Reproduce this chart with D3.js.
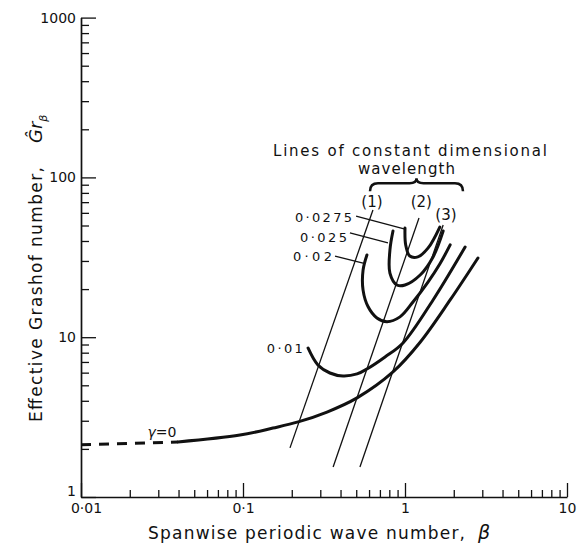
<!DOCTYPE html>
<html>
<head>
<meta charset="utf-8">
<script src="https://cdn.jsdelivr.net/npm/d3@7"></script>
<style>
    body { margin: 0; background: #fff; }
    svg { display: block; font-family: "DejaVu Sans", sans-serif; }
</style>
</head>
<body>
<div id="chart"></div>
<script>
//Datos (beta, Gr)
const betaTicks = [0.01, 0.1, 1, 10];
const grTicks = [1, 10, 100, 1000];

//Curva gamma = 0 (tramo discontinuo y tramo continuo)
const gamma0Dashed = [[0.01, 2.12], [0.0397, 2.21]];
const gamma0 = [[0.0397, 2.21], [0.0958, 2.44], [0.153, 2.70], [0.219, 2.95], [0.330, 3.40], [0.506, 4.17],
    [0.843, 6.06], [1.24, 9.3], [1.90, 17.1], [2.82, 31.3]];

//Curvas de gamma constante
const gamma001 = [[0.252, 8.56], [0.290, 6.70], [0.344, 5.97], [0.414, 5.72], [0.506, 5.89], [0.582, 6.32],
    [0.753, 7.52], [0.972, 9.20], [1.49, 17.1], [2.35, 36.7]];
const gamma002 = [[0.582, 32.7], [0.551, 26.3], [0.551, 19.7], [0.592, 15.5], [0.671, 13.2], [0.774, 12.5],
    [0.931, 13.4], [1.12, 16.6], [1.39, 22.2], [1.64, 28.7], [1.90, 37.8]];
const gamma0025 = [[0.843, 46.2], [0.807, 35.1], [0.807, 25.2], [0.893, 21.2], [1.0, 21.2], [1.24, 24.5],
    [1.49, 31.8], [1.72, 46.2]];
const gamma00275 = [[1.0, 48.2], [1.01, 37.8], [1.07, 32.2], [1.20, 31.8], [1.39, 36.2], [1.64, 48.9]];

//Lineas de longitud de onda dimensional constante
const wavelength1 = [[0.634, 62.5], [0.195, 2.03]];
const wavelength2 = [[1.22, 55.7], [0.360, 1.54]];
const wavelength3 = [[1.72, 50.4], [0.527, 1.54]];

const gammaLabels = ['0·0275', '0·025', '0·02', '0·01'];
const wavelengthLabels = ['(1)', '(2)', '(3)'];

//Lienzo
let margin = {top: 17.6, right: 19, bottom: 46, left: 81},
    width = 586,
    height = 543;

let svg = d3.select('#chart')
    .append('svg')
    .attr('width', width)
    .attr('height', height);

let x = d3.scaleLog()
    .domain([0.01, 10])
    .range([margin.left, width - margin.right]);

let y = d3.scaleLog()
    .domain([1, 1000])
    .range([height - margin.bottom, margin.top]);

let fmt = function(d) { return String(d).replace('.', '·'); };
let isMinor = function(d) { return Math.abs(Math.log10(d) - Math.round(Math.log10(d))) > 1e-6; };

//Eje X
svg.append('g')
    .attr('class', 'xaxis')
    .attr('transform', 'translate(0,' + y(1) + ')')
    .call(d3.axisBottom(x).tickValues(betaTicks).tickSize(-14).tickSizeOuter(0).tickPadding(6).tickFormat(fmt))
    .call(function(g) {
        //El 0·01 queda algo desplazado a la derecha en el original
        g.selectAll('.tick text').filter(function(d) { return d == 0.01; }).attr('dx', 5);
    });

svg.append('g')
    .attr('class', 'xaxis-minor')
    .attr('transform', 'translate(0,' + y(1) + ')')
    .call(d3.axisBottom(x).tickValues(x.ticks().filter(isMinor)).tickSize(-7).tickFormat(''))
    .call(function(g) { g.select('.domain').remove(); });

//Eje Y
svg.append('g')
    .attr('class', 'yaxis')
    .attr('transform', 'translate(' + x(0.01) + ',0)')
    .call(d3.axisLeft(y).tickValues(grTicks).tickSize(-15).tickSizeOuter(0).tickPadding(5).tickFormat(fmt))
    .call(function(g) {
        g.selectAll('.tick text').filter(function(d) { return d == 1; }).attr('dy', '-0.1em');
    });

svg.append('g')
    .attr('class', 'yaxis-minor')
    .attr('transform', 'translate(' + x(0.01) + ',0)')
    .call(d3.axisLeft(y).tickValues(y.ticks().filter(isMinor)).tickSize(-8).tickFormat(''))
    .call(function(g) { g.select('.domain').remove(); });

svg.selectAll('.domain').attr('stroke', '#111').attr('stroke-width', 1.7);
svg.selectAll('.tick line').attr('stroke', '#111').attr('stroke-width', 1.3);
svg.selectAll('.tick text').attr('fill', '#111').style('font-size', '14px').style('font-family', '"DejaVu Sans", sans-serif');

//Curvas
let line = d3.line()
    .x(function(d) { return x(d[0]); })
    .y(function(d) { return y(d[1]); })
    .curve(d3.curveCatmullRom.alpha(0.5));

let straight = d3.line()
    .x(function(d) { return x(d[0]); })
    .y(function(d) { return y(d[1]); });

svg.append('path')
    .attr('d', straight(gamma0Dashed))
    .attr('fill', 'none')
    .attr('stroke', '#111')
    .attr('stroke-width', 3)
    .attr('stroke-dasharray', '10,8');

[gamma0, gamma001, gamma002, gamma0025, gamma00275].forEach(function(c) {
    svg.append('path')
        .attr('d', line(c))
        .attr('fill', 'none')
        .attr('stroke', '#111')
        .attr('stroke-width', 3)
        .attr('stroke-linecap', 'round');
});

[wavelength1, wavelength2, wavelength3].forEach(function(c) {
    svg.append('path')
        .attr('d', straight(c))
        .attr('fill', 'none')
        .attr('stroke', '#111')
        .attr('stroke-width', 1.3);
});

//Etiquetas de las curvas
let gammaAnnot = [
    {text: gammaLabels[0], at: [0.471, 52.6], len: 57, leader: [[0.499, 57.3], [1.0, 47.5]]},
    {text: gammaLabels[1], at: [0.438, 39.4], len: 47, leader: [[0.457, 44.9], [0.785, 38.9]]},
    {text: gammaLabels[2], at: [0.354, 30.0], len: 39, leader: [[0.370, 32.2], [0.551, 29.1]]},
    {text: gammaLabels[3], at: [0.234, 7.96], len: 36, leader: null}
];

gammaAnnot.forEach(function(a) {
    svg.append('text')
        .attr('x', x(a.at[0]))
        .attr('y', y(a.at[1]))
        .attr('text-anchor', 'end')
        .attr('textLength', a.len)
        .attr('lengthAdjust', 'spacing')
        .style('font-size', '13px')
        .attr('fill', '#111')
        .text(a.text);
    if (a.leader) {
        svg.append('path')
            .attr('d', straight(a.leader))
            .attr('stroke', '#111')
            .attr('stroke-width', 1.3);
    }
});

svg.append('text')
    .attr('x', x(0.0316))
    .attr('y', y(2.37))
    .attr('text-anchor', 'middle')
    .style('font-size', '14px')
    .attr('fill', '#111')
    .html('<tspan font-style="italic">γ</tspan>=0');

let wlAnnot = [[0.625, 65.3], [1.26, 65.3], [1.79, 54.1]];
wlAnnot.forEach(function(p, i) {
    svg.append('text')
        .attr('x', x(p[0]))
        .attr('y', y(p[1]))
        .attr('text-anchor', 'middle')
        .style('font-size', '15px')
        .attr('fill', '#111')
        .text(wavelengthLabels[i]);
});

//Titulo interno y llave
svg.append('text')
    .attr('x', 273)
    .attr('y', y(137))
    .attr('textLength', 274)
    .attr('lengthAdjust', 'spacing')
    .style('font-size', '15px')
    .attr('fill', '#111')
    .text('Lines of constant dimensional');

svg.append('text')
    .attr('x', 358)
    .attr('y', y(105))
    .attr('textLength', 97)
    .attr('lengthAdjust', 'spacing')
    .style('font-size', '15px')
    .attr('fill', '#111')
    .text('wavelength');

let bl = x(0.608), br = x(2.28), bm = (bl + br) / 2, by = y(92);
svg.append('path')
    .attr('d', 'M' + bl + ',' + (by + 8) + ' Q' + bl + ',' + by + ' ' + (bl + 8) + ',' + by +
        ' L' + (bm - 7) + ',' + by + ' Q' + bm + ',' + by + ' ' + bm + ',' + (by - 5) +
        ' Q' + bm + ',' + by + ' ' + (bm + 7) + ',' + by +
        ' L' + (br - 8) + ',' + by + ' Q' + br + ',' + by + ' ' + br + ',' + (by + 8))
    .attr('fill', 'none')
    .attr('stroke', '#111')
    .attr('stroke-width', 2.5);

//Titulos de ejes
svg.append('text')
    .attr('x', 148)
    .attr('y', 539)
    .attr('textLength', 317)
    .attr('lengthAdjust', 'spacing')
    .style('font-size', '17px')
    .attr('fill', '#111')
    .text('Spanwise periodic wave number,');

svg.append('text')
    .attr('x', 478)
    .attr('y', 539)
    .style('font-size', '19px')
    .style('font-style', 'italic')
    .attr('fill', '#111')
    .text('β');

svg.append('text')
    .attr('transform', 'translate(42,422) rotate(-90)')
    .attr('textLength', 255)
    .attr('lengthAdjust', 'spacing')
    .style('font-size', '17px')
    .attr('fill', '#111')
    .text('Effective Grashof number,');

svg.append('text')
    .attr('transform', 'translate(42,143) rotate(-90)')
    .style('font-size', '18px')
    .attr('fill', '#111')
    .html('<tspan font-style="italic">Ĝr</tspan><tspan font-style="italic" font-size="11px" dy="5">β</tspan>');
</script>
</body>
</html>
